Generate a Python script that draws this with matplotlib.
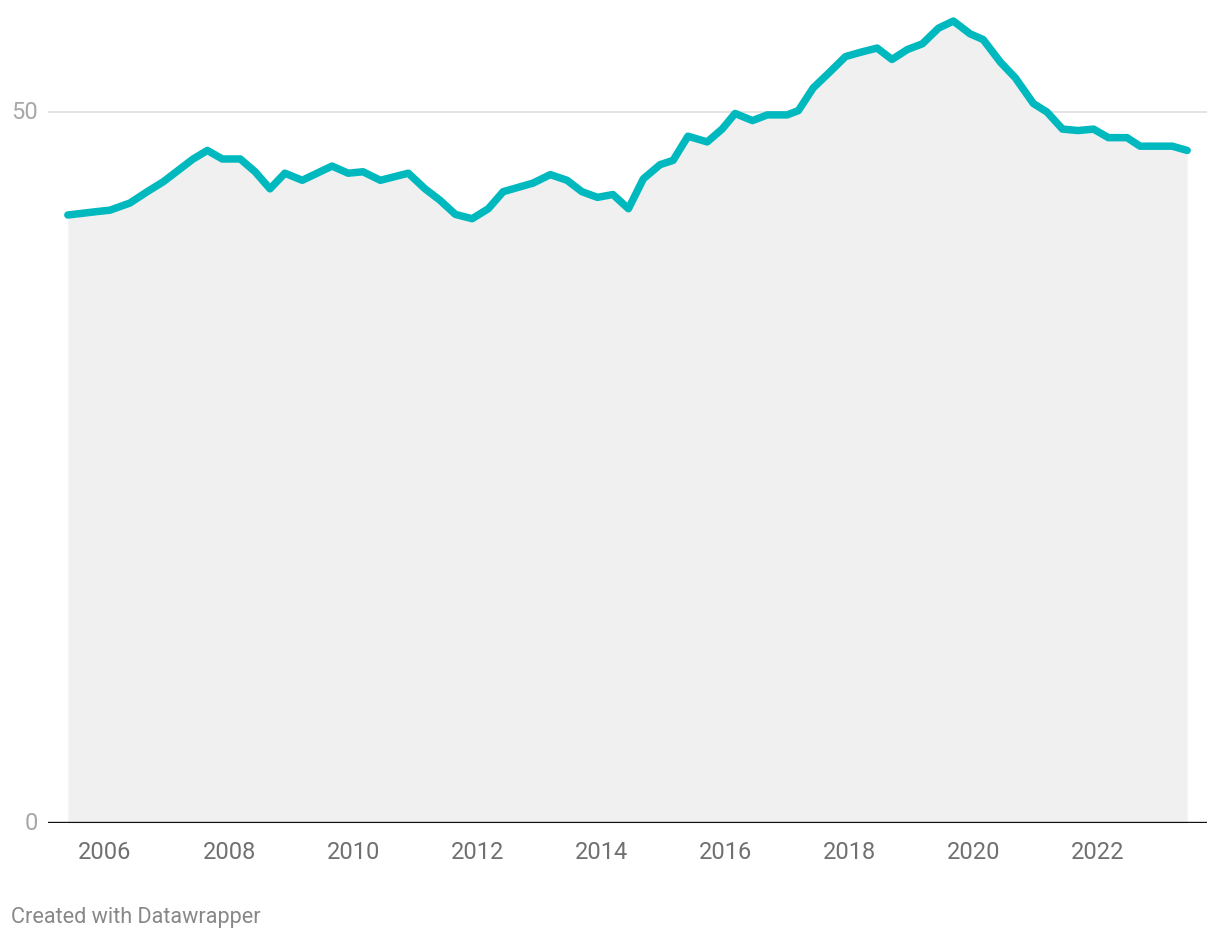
import matplotlib
matplotlib.use("Agg")
import matplotlib.pyplot as plt
import numpy as np

plt.rcParams['font.family'] = ['Roboto', 'DejaVu Sans']

# series (decimal year, value)
years = [2005.40, 2005.87, 2006.08, 2006.40, 2006.68, 2006.94, 2007.42, 2007.65,
         2007.89, 2008.18, 2008.42, 2008.66, 2008.90, 2009.18, 2009.66, 2009.92,
         2010.16, 2010.44, 2010.89, 2011.16, 2011.40, 2011.65, 2011.92, 2012.18,
         2012.42, 2012.90, 2013.18, 2013.45, 2013.69, 2013.94, 2014.19, 2014.44,
         2014.68, 2014.95, 2015.16, 2015.40, 2015.71, 2015.95, 2016.16, 2016.44,
         2016.68, 2017.00, 2017.18, 2017.42, 2017.66, 2017.94, 2018.18, 2018.45,
         2018.69, 2018.94, 2019.18, 2019.44, 2019.68, 2019.95, 2020.16, 2020.44,
         2020.68, 2020.97, 2021.19, 2021.44, 2021.69, 2021.94, 2022.18, 2022.48,
         2022.69, 2023.21, 2023.45]
values = [42.76, 43.0, 43.1, 43.6, 44.4, 45.1, 46.7, 47.3,
          46.7, 46.7, 45.8, 44.6, 45.7, 45.2, 46.2, 45.7,
          45.8, 45.2, 45.7, 44.6, 43.8, 42.8, 42.5, 43.2,
          44.4, 45.0, 45.6, 45.2, 44.4, 44.0, 44.2, 43.2,
          45.3, 46.3, 46.6, 48.3, 47.9, 48.8, 49.9, 49.4,
          49.8, 49.8, 50.1, 51.7, 52.7, 53.9, 54.2, 54.5,
          53.7, 54.4, 54.8, 55.9, 56.4, 55.5, 55.1, 53.5,
          52.4, 50.6, 50.0, 48.8, 48.7, 48.8, 48.2, 48.2,
          47.6, 47.6, 47.3]

xticks = [2006, 2008, 2010, 2012, 2014, 2016, 2018, 2020, 2022]
yticks = [0, 50]

fig = plt.figure(figsize=(12.2, 9.4), dpi=100)
ax = fig.add_axes([48 / 1220, 117 / 940, 1159 / 1220, 823 / 940])

ax.fill_between(years, values, 0, color='#f0f0f0', linewidth=0, zorder=1)
ax.plot(years, values, color='#00b9bf', linewidth=5.4, solid_capstyle='round',
        solid_joinstyle='round', zorder=3)

# grid line at 50, baseline at 0
ax.axhline(50, color='#e1e1e1', linewidth=1.3, zorder=0)
ax.axhline(0, color='#111111', linewidth=1.7, zorder=4)

ax.set_xlim(2005.08, 2023.77)
ax.set_ylim(0, 57.88)

for s in ax.spines.values():
    s.set_visible(False)
ax.set_xticks(xticks)
ax.set_xticklabels([str(t) for t in xticks], fontsize=17, color='#707070')
ax.tick_params(axis='x', length=0, pad=13)
ax.set_yticks([])

for t in yticks:
    ax.text(-0.009, t, str(t), transform=ax.get_yaxis_transform(), ha='right',
            va='center', fontsize=17, color='#a8a8a8')

fig.text(11 / 1220, 1 - 918 / 940, 'Created with Datawrapper', fontsize=15.6,
         color='#888888', va='center', ha='left')

fig.savefig('out.png', dpi=100, facecolor='white')
